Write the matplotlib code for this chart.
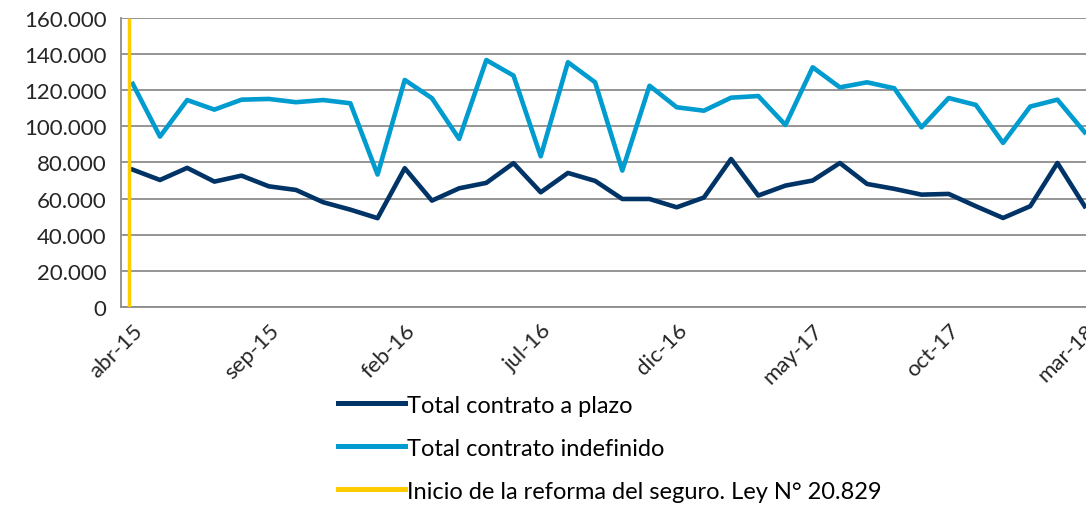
import matplotlib.pyplot as plt
from matplotlib.ticker import FuncFormatter

plt.rcParams['font.family'] = ['Lato', 'DejaVu Sans']

meses = ["abr-15", "may-15", "jun-15", "jul-15", "ago-15", "sep-15", "oct-15", "nov-15", "dic-15",
         "ene-16", "feb-16", "mar-16", "abr-16", "may-16", "jun-16", "jul-16", "ago-16", "sep-16",
         "oct-16", "nov-16", "dic-16", "ene-17", "feb-17", "mar-17", "abr-17", "may-17", "jun-17",
         "jul-17", "ago-17", "sep-17", "oct-17", "nov-17", "dic-17", "ene-18", "feb-18", "mar-18"]

plazo = [76000, 70300, 77000, 69400, 72700, 66800, 64800, 58000, 53900, 49200,
         76800, 58900, 65700, 68700, 79600, 63500, 74200, 69800, 59800, 59800,
         55200, 60600, 81900, 61700, 67200, 70000, 79700, 68100, 65400, 62200,
         62600, 55800, 49300, 55800, 79700, 55800]

indefinido = [123400, 94300, 114500, 109200, 114700, 115100, 113300, 114500, 112700, 73300,
              125600, 115500, 93000, 136600, 128000, 83400, 135400, 124300, 75500, 122400,
              110500, 108600, 115800, 116700, 100700, 132600, 121500, 124300, 121000, 99400,
              115600, 111800, 90800, 110900, 114700, 96700]

reforma_x = -0.15
reforma_y = [0, 159000]

fig = plt.figure(figsize=(10.86, 5.06), dpi=100)
ax = fig.add_axes([0.111, 0.391, 0.889, 0.572])

x = list(range(len(meses)))
l1, = ax.plot(x, plazo, color="#003366", lw=3.3, label="Total contrato a plazo", zorder=3)
l2, = ax.plot(x, indefinido, color="#009BCF", lw=3.3, label="Total contrato indefinido", zorder=3)
l3, = ax.plot([reforma_x, reforma_x], reforma_y, color="#FFCC00", lw=2.5,
              label="Inicio de la reforma del seguro. Ley N° 20.829", zorder=4)

ax.set_ylim(0, 160000)
ax.set_xlim(-0.45, 35.05)
ax.set_yticks(range(0, 160001, 20000))
ax.yaxis.set_major_formatter(FuncFormatter(lambda v, p: f"{int(v):,}".replace(",", ".")))
ax.grid(axis="y", color="#8c8c8c", lw=1.3)
ax.set_axisbelow(True)

ticks = x[::5]
ax.set_xticks(ticks)
ax.set_xticklabels([meses[i] for i in ticks], rotation=45, ha="right", rotation_mode="anchor")
ax.tick_params(axis="both", length=0, labelsize=16, colors="#262626")
ax.tick_params(axis="x", pad=9)
ax.tick_params(axis="y", pad=10)

for s in ["top", "right"]:
    ax.spines[s].set_visible(False)
for s in ["left", "bottom"]:
    ax.spines[s].set_color("#8c8c8c")
    ax.spines[s].set_linewidth(1.3)

leg = fig.legend(handles=[l1, l2, l3], loc="upper left", bbox_to_anchor=(0.311, 0.218),
                 frameon=False, fontsize=17, handlelength=2.85, handletextpad=0.1,
                 labelspacing=0.93, borderaxespad=0, borderpad=0)
for h in leg.get_lines():
    h.set_linewidth(3.6)

fig.savefig("out.png", dpi=100)
